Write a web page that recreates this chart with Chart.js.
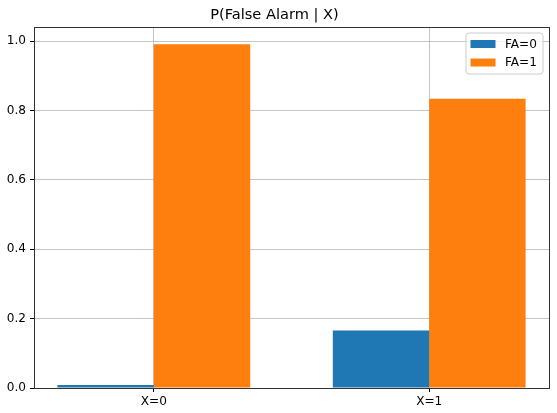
<!DOCTYPE html>
<html>
<head>
<meta charset="utf-8">
<script src="https://cdn.jsdelivr.net/npm/chart.js@4"></script>
<style>
  body { margin: 0; background: #fff; }
  canvas { display: block; }
</style>
</head>
<body>
<canvas id="faChart" width="557" height="413"></canvas>
<script>
const categories = ['X=0', 'X=1'];
const fa0 = [0.009, 0.166];
const fa1 = [0.991, 0.834];
const yTicks = [0, 0.2, 0.4, 0.6, 0.8, 1.0];
const seriesLabels = ['FA=0', 'FA=1'];

Chart.defaults.font.family = "'DejaVu Sans', sans-serif";
Chart.defaults.color = '#000';

const gridColor = 'rgba(176,176,176,0.75)';
const spineColor = '#333';

// matplotlib-style legend box in the upper right corner of the axes
const innerLegend = {
  id: 'innerLegend',
  afterDraw(chart) {
    const { ctx, chartArea } = chart;
    const fs = 12.1;
    const w = 77, h = 41;
    const x = chartArea.right - 6 - w;
    const y = chartArea.top + 6;
    ctx.save();
    ctx.beginPath();
    ctx.roundRect(x, y, w, h, 3);
    ctx.fillStyle = 'rgba(255,255,255,0.8)';
    ctx.fill();
    ctx.strokeStyle = '#cccccc';
    ctx.lineWidth = 1;
    ctx.stroke();
    ctx.font = fs + "px 'DejaVu Sans'";
    ctx.textBaseline = 'middle';
    chart.data.datasets.forEach((ds, i) => {
      const cy = y + 11 + i * 18.5;
      ctx.fillStyle = ds.backgroundColor;
      ctx.fillRect(x + 4.5, cy - 4, 25, 8);
      ctx.fillStyle = '#000';
      ctx.fillText(ds.label, x + 39, cy + 0.5);
    });
    ctx.restore();
  }
};

new Chart(document.getElementById('faChart'), {
  type: 'bar',
  data: {
    datasets: [
      {
        label: seriesLabels[0],
        data: categories.map((c, i) => ({ x: i, y: fa0[i] })),
        backgroundColor: '#1f77b4',
        borderWidth: 0
      },
      {
        label: seriesLabels[1],
        data: categories.map((c, i) => ({ x: i, y: fa1[i] })),
        backgroundColor: '#ff7f0e',
        borderWidth: 0
      }
    ]
  },
  options: {
    responsive: false,
    animation: false,
    categoryPercentage: 0.7,
    barPercentage: 1.0,
    layout: { padding: { left: 0, right: 8, top: 0, bottom: 0 } },
    plugins: {
      legend: { display: false },
      tooltip: { enabled: false },
      title: {
        display: true,
        text: 'P(False Alarm | X)',
        color: '#000',
        font: { size: 14.6, weight: 'normal', lineHeight: 1.2 },
        padding: { top: 6, bottom: 3.5 }
      }
    },
    scales: {
      x: {
        type: 'linear',
        position: 'bottom',
        min: -0.435,
        max: 1.435,
        offset: false,
        z: 1,
        afterBuildTicks: s => { s.ticks = categories.map((c, i) => ({ value: i })); },
        afterFit: s => { s.height = 25; },
        ticks: {
          callback: v => categories[v],
          font: { size: 12.1 },
          color: '#000',
          padding: 3,
          maxRotation: 0
        },
        grid: { offset: false, color: gridColor, lineWidth: 1, tickLength: 4, tickColor: '#000', drawTicks: true },
        border: { color: spineColor, width: 1 }
      },
      y: {
        min: 0,
        max: 1.0405,
        z: 1,
        afterBuildTicks: s => { s.ticks = yTicks.map(v => ({ value: v })); },
        afterFit: s => { s.width = 34; },
        ticks: {
          callback: v => v.toFixed(1),
          font: { size: 12.1 },
          color: '#000',
          padding: 4
        },
        grid: { color: gridColor, lineWidth: 1, tickLength: 4, tickColor: '#000', drawTicks: true },
        border: { color: spineColor, width: 1 }
      },
      xTop: {
        type: 'linear',
        position: 'top',
        z: 1,
        afterFit: s => { s.height = 0; },
        ticks: { display: false },
        grid: { display: false, drawTicks: false },
        border: { color: spineColor, width: 1 }
      },
      yRight: {
        type: 'linear',
        position: 'right',
        z: 1,
        afterFit: s => { s.width = 0; },
        ticks: { display: false },
        grid: { display: false, drawTicks: false },
        border: { color: spineColor, width: 1 }
      }
    }
  },
  plugins: [innerLegend]
});
</script>
</body>
</html>
